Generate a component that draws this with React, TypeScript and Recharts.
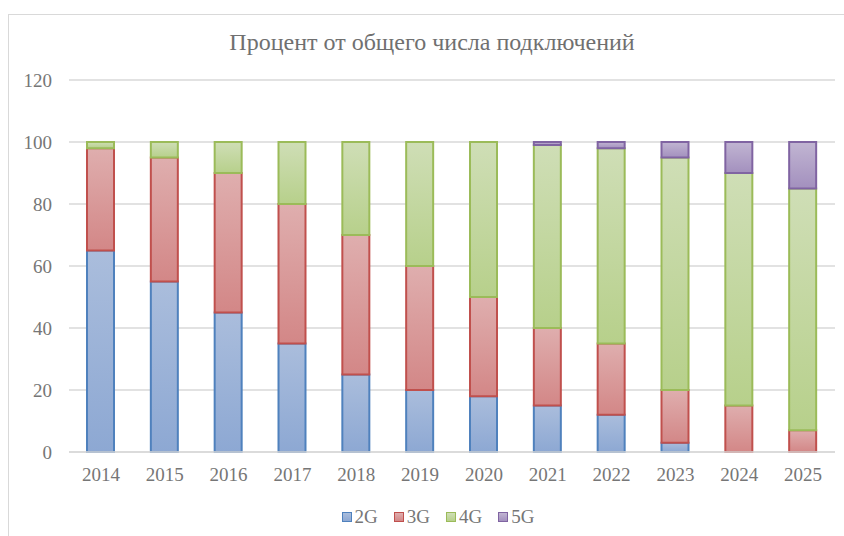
import { Bar, BarChart, CartesianGrid, XAxis, YAxis } from "recharts";

const years = ["2014", "2015", "2016", "2017", "2018", "2019", "2020", "2021", "2022", "2023", "2024", "2025"];
const g2 = [65, 55, 45, 35, 25, 20, 18, 15, 12, 3, 0, 0];
const g3 = [33, 40, 45, 45, 45, 40, 32, 25, 23, 17, 15, 7];
const g4 = [2, 5, 10, 20, 30, 40, 50, 59, 63, 75, 75, 78];
const g5 = [0, 0, 0, 0, 0, 0, 0, 1, 2, 5, 10, 15];
const yTicks = [0, 20, 40, 60, 80, 100, 120];

const series = [
  { key: "2G", values: g2, top: "#AABDDC", bottom: "#8DA8D3", stroke: "#4F81BD" },
  { key: "3G", values: g3, top: "#DFAEAE", bottom: "#D38787", stroke: "#C0504D" },
  { key: "4G", values: g4, top: "#CFDEB6", bottom: "#B7D08B", stroke: "#9BBB59" },
  { key: "5G", values: g5, top: "#C1B5D2", bottom: "#A390BE", stroke: "#8064A2" },
];

const data = years.map((year, i) => {
  const row: any = { year };
  series.forEach((s) => (row[s.key] = s.values[i]));
  return row;
});

const font = "'Liberation Serif', 'Times New Roman', serif";
const textColor = "#767676";

const ChartLegend = () => (
  <div
    style={{
      position: "absolute",
      left: 0,
      top: 506,
      width: 876,
      display: "flex",
      justifyContent: "center",
      gap: 16,
      fontFamily: font,
      fontSize: 19,
      lineHeight: "22px",
      color: textColor,
    }}
  >
    {series.map((s) => (
      <div key={s.key} style={{ display: "flex", alignItems: "center" }}>
        <span
          style={{
            display: "inline-block",
            width: 8,
            height: 8,
            marginRight: 3,
            border: `1.5px solid ${s.stroke}`,
            background: `linear-gradient(${s.top}, ${s.bottom})`,
          }}
        />
        {s.key}
      </div>
    ))}
  </div>
);

export default function App() {
  return (
    <div style={{ position: "absolute", left: 0, top: 0, width: 844, height: 536, background: "#fff", overflow: "hidden" }}>
      <div
        style={{
          position: "absolute",
          left: 8,
          top: 14,
          width: 850,
          height: 540,
          border: "1.5px solid #D9D9D9",
          boxSizing: "border-box",
        }}
      />
      <div
        style={{
          position: "absolute",
          left: 0,
          top: 29,
          width: 864,
          textAlign: "center",
          fontFamily: font,
          fontSize: 24,
          color: "#707070",
        }}
      >
        Процент от общего числа подключений
      </div>
      <div style={{ position: "absolute", left: 0, top: 0 }}>
        <BarChart width={844} height={536} data={data} margin={{ top: 80, right: 9, left: 0, bottom: 54 }} barSize={27}>
          <defs>
            {series.map((s) => (
              <linearGradient key={s.key} id={`grad-${s.key}`} x1="0" y1="0" x2="0" y2="1">
                <stop offset="0%" stopColor={s.top} />
                <stop offset="100%" stopColor={s.bottom} />
              </linearGradient>
            ))}
          </defs>
          <CartesianGrid vertical={false} stroke="#D9D9D9" strokeWidth={1.5} />
          <XAxis
            dataKey="year"
            axisLine={{ stroke: "#D9D9D9", strokeWidth: 1.5 }}
            tickLine={false}
            tickSize={0}
            tickMargin={16}
            height={30}
            tick={{ fill: textColor, fontSize: 19, fontFamily: font }}
          />
          <YAxis
            domain={[0, 120]}
            ticks={yTicks}
            axisLine={false}
            tickLine={false}
            tickSize={0}
            tickMargin={17}
            width={69}
            tick={{ fill: textColor, fontSize: 19, fontFamily: font }}
          />
          {series.map((s) => (
            <Bar
              key={s.key}
              dataKey={s.key}
              stackId="a"
              fill={`url(#grad-${s.key})`}
              stroke={s.stroke}
              strokeWidth={2}
              isAnimationActive={false}
            />
          ))}
        </BarChart>
      </div>
      <ChartLegend />
    </div>
  );
}
